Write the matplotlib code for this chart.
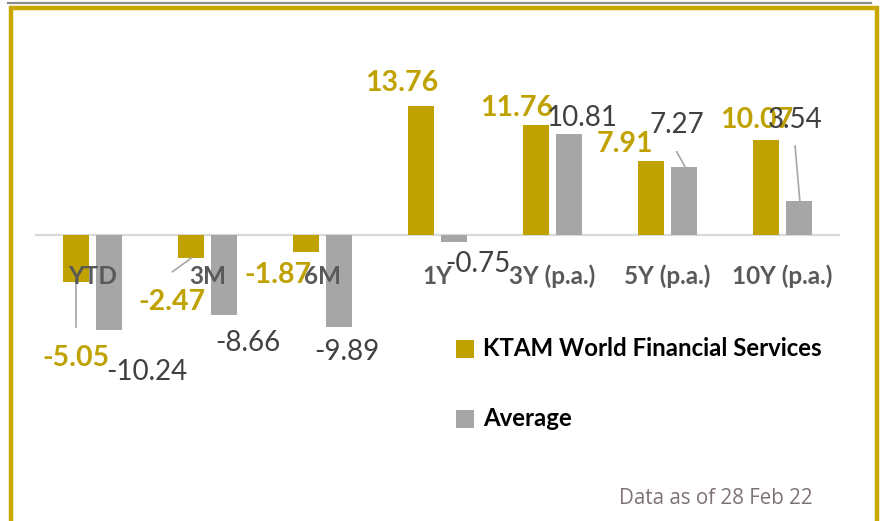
import matplotlib
matplotlib.use("Agg")
import matplotlib.pyplot as plt
from matplotlib.patches import Rectangle
from matplotlib.lines import Line2D

categories = ["YTD", "3M", "6M", "1Y", "3Y (p.a.)", "5Y (p.a.)", "10Y (p.a.)"]
fund = [-5.05, -2.47, -1.87, 13.76, 11.76, 7.91, 10.07]
average = [-10.24, -8.66, -9.89, -0.75, 10.81, 7.27, 3.54]
fund_name = "KTAM World Financial Services"
avg_name = "Average"
footnote = "Data as of 28 Feb 22"

# label positions (data coords)
fund_lbl_x = [-0.146, 0.689, 1.616, 2.689, 3.689, 4.63, 5.775]
fund_lbl_y = [-13.22, -7.19, -4.34, 16.25, 13.51, 9.69, 12.26]
avg_lbl_x = [0.471, 1.355, 2.21, 3.355, 4.258, 5.084, 6.109]
avg_lbl_y = [-14.72, -11.65, -12.55, -3.16, 12.44, 11.72, 12.26]
leaders = [((-0.1435, -0.1435), (-5.09, -9.9)),
           ((0.697, 0.863), (-3.98, -2.48)),
           ((5.08, 5.152), (8.86, 7.26)),
           ((6.109, 6.152), (9.48, 3.45))]

GOLD = "#BFA100"
FRAME_GOLD = "#C9A800"
GREY = "#A6A6A6"
W, H = 880, 521
FONT = ["Lato", "DejaVu Sans"]

fig = plt.figure(figsize=(W / 100, H / 100), dpi=100)

# axes in pixels: x 35..840, y 20..460; zero at 234.5 with 9.34 px/unit
ax_l, ax_r, ax_t, ax_b = 35, 840, 20, 460
ax = fig.add_axes([ax_l / W, (H - ax_b) / H, (ax_r - ax_l) / W, (ax_b - ax_t) / H])
scale = 9.34
zero_px = 234.5
ax.set_ylim(-(ax_b - zero_px) / scale, (zero_px - ax_t) / scale)
ax.set_xlim(-0.5, len(categories) - 0.5)
ax.axis("off")

xs = list(range(len(categories)))
bw = 0.226
off = 0.1435
ax.bar([x - off for x in xs], fund, width=bw, color=GOLD, zorder=2)
ax.bar([x + off for x in xs], average, width=bw, color=GREY, zorder=2)
ax.axhline(0, color="#D9D9D9", lw=1.6, zorder=1)

for (lx, ly) in leaders:
    ax.plot(lx, ly, color="#A6A6A6", lw=1.2, zorder=3)

for x, c in zip(xs, categories):
    ax.text(x, -4.5, c, ha="center", va="center", fontsize=17.5, fontweight="bold",
            color="#595959", family=FONT, zorder=4)

for v, lx, ly in zip(fund, fund_lbl_x, fund_lbl_y):
    ax.text(lx, ly, f"{v:.2f}", ha="center", va="center", fontsize=20.5, fontweight="bold",
            color=GOLD, family=FONT, zorder=5)
for v, lx, ly in zip(average, avg_lbl_x, avg_lbl_y):
    ax.text(lx, ly, f"{v:.2f}", ha="center", va="center", fontsize=20, fontweight="normal",
            color="#404040", family=FONT, zorder=5)

# legend
def px(x, y):
    return x / W, (H - y) / H

for (y0, col, name) in [(340, GOLD, fund_name), (410, GREY, avg_name)]:
    fx, fy = px(456, y0 + 18)
    fig.patches.append(Rectangle((fx, fy), 18 / W, 18 / H, transform=fig.transFigure,
                                 color=col, lw=0))
    tx, ty = px(483, y0 + 8)
    fig.text(tx, ty, name, ha="left", va="center", fontsize=17.3, fontweight="bold",
             color="black", family=FONT)

fx, fy = px(813, 498)
fig.text(fx, fy, footnote, ha="right", va="center", fontsize=14.8, color="#7F7273",
         family=["Open Sans", "DejaVu Sans"])

# frame
fig.lines.append(Line2D([8 / W, 871 / W], [px(0, 2.7)[1]] * 2, transform=fig.transFigure,
                        color="#8C8C8C", lw=1.6))
fig.lines.append(Line2D([11 / W, 11 / W, 877 / W, 877 / W],
                        [0, px(0, 7.7)[1], px(0, 7.7)[1], 0], transform=fig.transFigure,
                        color=FRAME_GOLD, lw=3.2, solid_joinstyle="miter"))

fig.savefig("out.png", dpi=100)
